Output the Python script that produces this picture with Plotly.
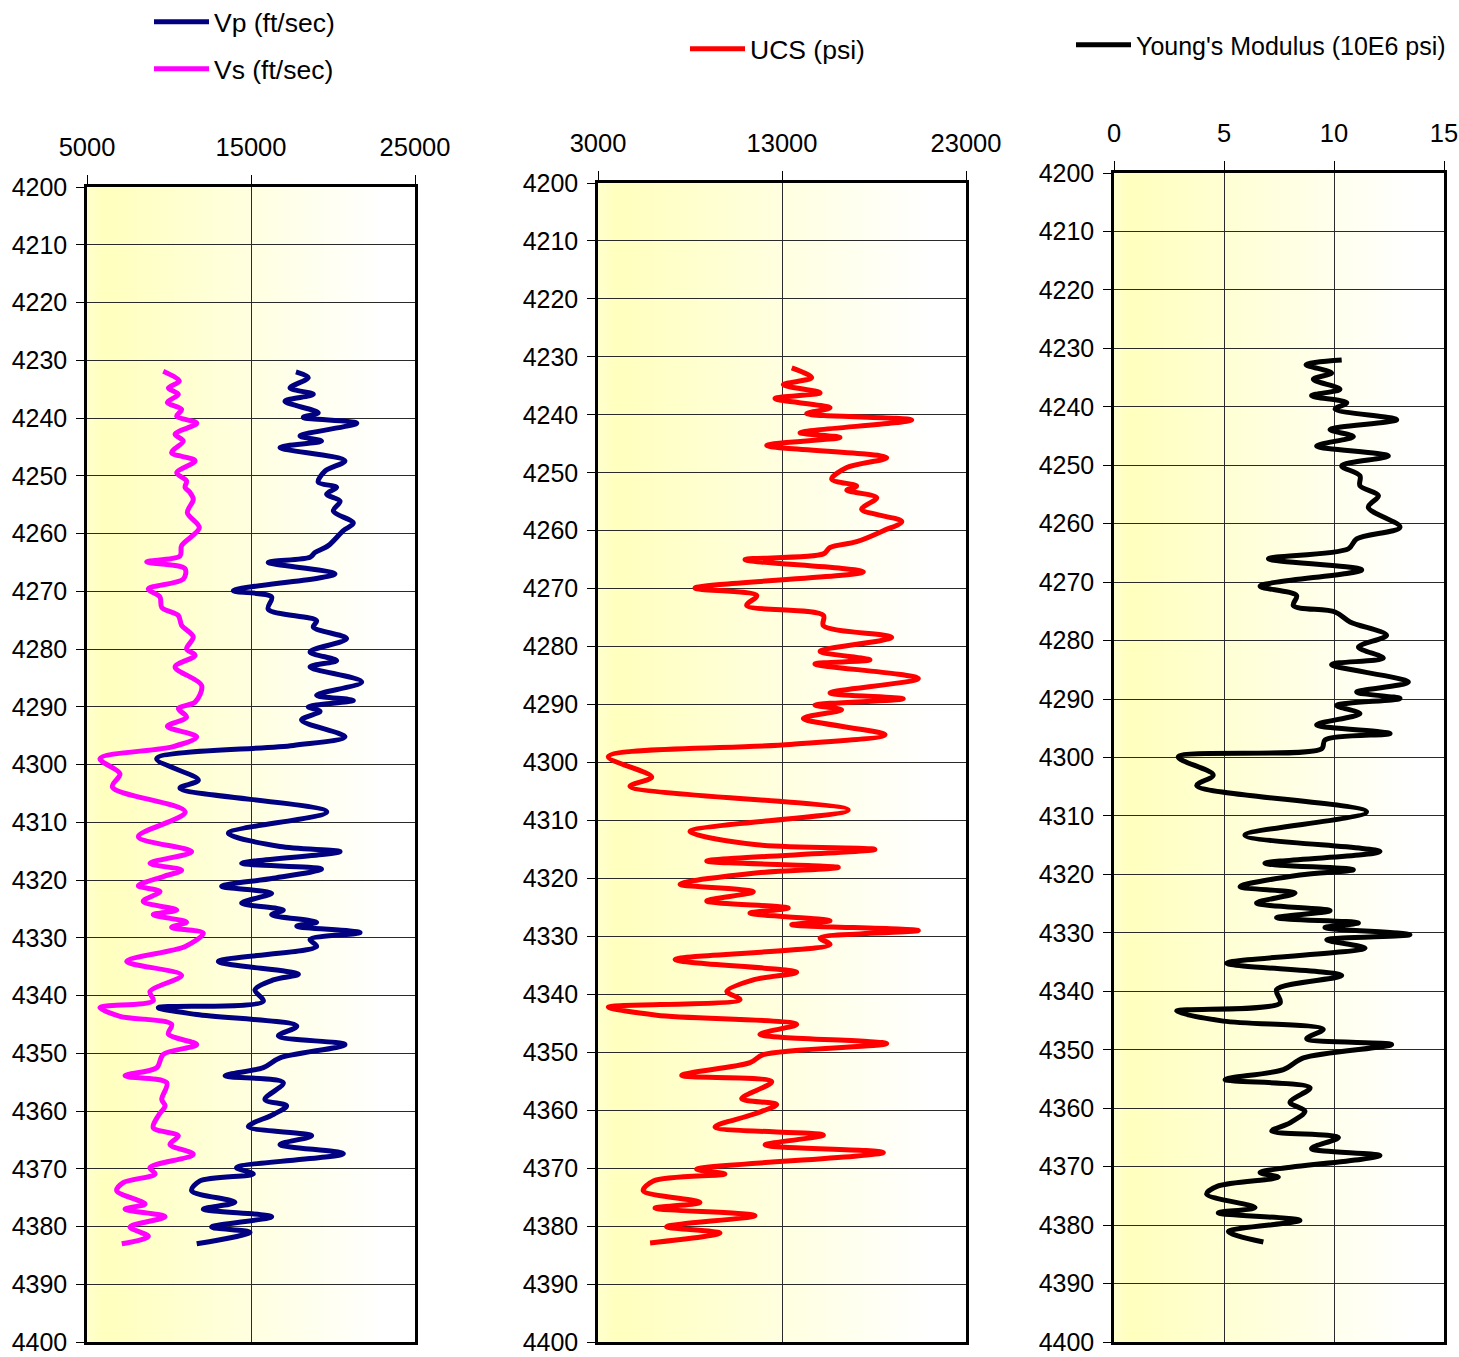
import base64
import struct
import zlib
import plotly.graph_objects as go

# ---------------- data ----------------
vp_depth = [4232.0, 4233.0, 4234.8, 4235.9, 4237.1, 4239.1, 4239.9, 4240.9, 4243.1, 4244.0,
            4245.1, 4247.4, 4249.2, 4251.1, 4252.0, 4253.2, 4254.4, 4256.1, 4258.2, 4259.5,
            4262.1, 4263.3, 4264.1, 4265.0, 4267.0, 4269.9, 4271.0, 4273.1, 4275.1, 4276.2,
            4278.2, 4280.5, 4282.0, 4283.1, 4285.7, 4288.0, 4288.9, 4290.0, 4290.8, 4292.3,
            4295.2, 4296.7, 4299.0, 4302.7, 4304.1, 4308.2, 4311.9, 4314.2, 4315.1, 4317.1,
            4318.1, 4319.7, 4321.1, 4322.3, 4324.0, 4325.2, 4326.0, 4327.3, 4328.0, 4329.1,
            4330.3, 4331.5, 4334.1, 4336.3, 4337.3, 4339.0, 4341.0, 4342.1, 4343.3, 4345.3,
            4347.0, 4348.5, 4350.8, 4352.5, 4353.9, 4355.1, 4358.0, 4359.1, 4360.6, 4362.7,
            4364.3, 4365.8, 4367.4, 4369.8, 4370.9, 4372.1, 4373.8, 4375.8, 4377.0, 4378.3,
            4380.1, 4381.0, 4383.0]
vp = [17740, 18490, 17380, 18800, 17070, 19100, 18190, 21450, 17990, 19300,
      16770, 20730, 19510, 19100, 20220, 19610, 20430, 20020, 21240, 20630,
      19710, 18900, 18600, 16050, 20120, 13920, 16260, 16050, 19000, 18800,
      20830, 18600, 20220, 18600, 21750, 19000, 21240, 18490, 19210, 18080,
      20730, 17580, 9250, 11790, 10670, 19620, 13620, 16770, 20430, 14430,
      19300, 16360, 13210, 16260, 14430, 16970, 16260, 19000, 17790, 21650,
      18600, 19000, 13010, 17890, 16360, 15240, 15750, 9350, 11690, 17790,
      16670, 20730, 16770, 15750, 13420, 16970, 15850, 17170, 16360, 14840,
      18700, 16770, 20630, 14120, 15140, 11890, 11380, 14020, 12090, 16260,
      12600, 14940, 11690]

vs_depth = [4231.9, 4233.6, 4234.8, 4235.9, 4237.3, 4238.5, 4239.7, 4240.9, 4242.8, 4244.0,
            4246.0, 4247.4, 4249.5, 4250.9, 4252.0, 4252.9, 4254.1, 4256.4, 4259.0, 4262.1,
            4263.9, 4264.9, 4266.1, 4267.9, 4269.6, 4271.0, 4272.8, 4274.2, 4275.9, 4277.9,
            4280.0, 4281.1, 4283.1, 4286.3, 4289.2, 4290.3, 4291.8, 4293.4, 4295.2, 4296.9,
            4299.0, 4301.6, 4303.9, 4308.2, 4312.5, 4315.1, 4317.1, 4318.3, 4319.4, 4321.0,
            4322.0, 4323.7, 4325.2, 4326.0, 4327.3, 4328.2, 4329.2, 4331.5, 4334.1, 4336.5,
            4339.3, 4340.9, 4342.1, 4343.6, 4345.0, 4346.7, 4348.5, 4350.2, 4352.5, 4353.9,
            4355.1, 4358.0, 4359.1, 4360.8, 4362.9, 4364.3, 4365.8, 4367.5, 4369.8, 4370.9,
            4372.4, 4373.8, 4376.1, 4377.0, 4378.3, 4380.1, 4381.7, 4383.0]
vs = [9650, 10630, 9960, 10570, 9900, 10770, 10470, 11690, 10370, 10870,
      10160, 11590, 10470, 11070, 10980, 11280, 11480, 11120, 11850, 10770,
      10670, 8640, 10980, 10870, 8740, 9450, 9560, 10570, 10770, 11480,
      11070, 11590, 10370, 11990, 11590, 10570, 11070, 9900, 11690, 10260,
      5790, 7010, 6550, 10990, 8130, 11380, 8840, 10770, 9650, 8130,
      9450, 8430, 10470, 9040, 11070, 10160, 12090, 10990, 7420, 10770,
      8840, 9040, 5790, 7010, 10160, 9960, 11690, 9650, 9250, 7320,
      9860, 9560, 9760, 9350, 9040, 10570, 10060, 11480, 8840, 9150,
      7210, 6810, 8540, 7320, 9760, 7620, 8740, 7120]

ucs_depth = [4231.9, 4233.6, 4234.8, 4236.2, 4237.2, 4238.8, 4239.8, 4240.9, 4243.1, 4243.9,
             4245.3, 4247.4, 4249.1, 4251.1, 4252.3, 4253.0, 4254.3, 4256.3, 4258.4, 4260.0,
             4261.9, 4262.9, 4264.0, 4265.0, 4267.1, 4269.9, 4271.2, 4272.9, 4274.6, 4276.4,
             4278.4, 4280.8, 4282.3, 4283.0, 4285.5, 4288.0, 4289.0, 4290.1, 4290.9, 4292.4,
             4295.2, 4296.9, 4299.0, 4302.5, 4304.1, 4308.2, 4311.9, 4314.2, 4315.0, 4317.0,
             4318.1, 4319.1, 4321.0, 4322.3, 4323.9, 4325.1, 4326.0, 4327.3, 4328.0, 4329.0,
             4330.3, 4331.4, 4334.0, 4336.2, 4337.5, 4339.5, 4340.9, 4342.2, 4343.6, 4345.2,
             4346.9, 4348.5, 4350.4, 4351.8, 4354.0, 4355.1, 4358.0, 4359.0, 4360.7, 4362.9,
             4364.3, 4366.0, 4367.3, 4370.2, 4371.0, 4372.2, 4373.9, 4375.9, 4376.9, 4378.2,
             4380.1, 4381.2, 4382.9]
ucs = [13530, 14610, 13070, 15070, 12620, 15610, 14340, 20050, 13980, 16150,
       12170, 18690, 16520, 15700, 17060, 16520, 18150, 17330, 19510, 18510,
       17060, 15610, 15250, 10990, 17420, 8270, 11630, 11080, 15250, 15250,
       18960, 15070, 17780, 14790, 20410, 15610, 19590, 14790, 16240, 14160,
       18600, 13440, 3560, 5920, 4740, 16600, 8000, 11630, 18050, 8910,
       16060, 11440, 7460, 11440, 8910, 13340, 11260, 15610, 13530, 20410,
       15070, 15610, 7190, 13800, 11440, 10000, 10720, 3560, 6190, 13800,
       11800, 18690, 11980, 11260, 7550, 12440, 10810, 12710, 11440, 9360,
       15250, 12080, 18510, 8360, 9900, 6010, 5460, 8540, 6100, 11530,
       6730, 9630, 5830]

ym_depth = [4232.0, 4232.8, 4234.2, 4235.3, 4237.0, 4238.1, 4239.3, 4240.4, 4242.2, 4243.9,
            4245.1, 4246.7, 4248.4, 4250.1, 4251.8, 4253.5, 4255.2, 4257.2, 4260.6, 4262.6,
            4264.3, 4266.0, 4267.9, 4270.7, 4272.3, 4274.0, 4275.1, 4276.8, 4279.1, 4281.1,
            4283.0, 4284.1, 4287.1, 4288.8, 4289.9, 4291.1, 4292.5, 4294.4, 4295.9, 4297.0,
            4298.5, 4299.9, 4303.0, 4304.8, 4309.3, 4313.3, 4316.1, 4318.1, 4319.2, 4320.1,
            4322.1, 4323.2, 4324.9, 4326.2, 4327.4, 4328.3, 4329.1, 4330.3, 4331.2, 4332.6,
            4335.2, 4337.3, 4339.7, 4342.0, 4343.4, 4345.1, 4346.5, 4348.1, 4349.1, 4351.4,
            4353.4, 4355.1, 4356.5, 4359.0, 4360.5, 4362.5, 4363.9, 4365.0, 4366.9, 4368.1,
            4371.0, 4371.8, 4373.3, 4374.7, 4377.0, 4377.9, 4379.2, 4381.1, 4382.9]
ym = [10.35, 8.73, 9.89, 9.06, 10.27, 8.98, 10.58, 10.05, 12.85, 9.82,
      10.88, 9.21, 12.47, 10.35, 11.18, 11.18, 12.02, 11.56, 13.0, 11.03,
      10.65, 7.02, 11.26, 6.64, 8.30, 8.15, 10.05, 10.73, 12.39, 11.11,
      12.24, 9.89, 13.38, 11.03, 13.0, 10.12, 11.18, 9.21, 12.55, 9.59,
      9.44, 2.92, 4.51, 3.76, 11.48, 5.95, 12.09, 6.86, 10.88, 8.45,
      5.73, 8.23, 6.48, 9.82, 7.39, 11.11, 9.59, 13.45, 9.67, 11.41,
      5.12, 10.35, 7.39, 7.55, 2.85, 4.97, 9.51, 8.76, 12.62, 8.61,
      7.70, 5.05, 8.91, 8.0, 8.68, 8.0, 7.17, 10.20, 8.98, 12.09,
      6.64, 7.47, 4.74, 4.21, 6.41, 4.74, 8.45, 5.20, 6.79]

depth_range = [4400, 4200]
depth_ticks = list(range(4200, 4401, 10))
vel_range = [5000, 25000]
vel_ticks = [5000, 15000, 25000]
ucs_range = [3000, 23000]
ucs_ticks = [3000, 13000, 23000]
ym_range = [0, 15]
ym_ticks = [0, 5, 10, 15]

# ---------------- helpers ----------------
W, H = 1459, 1357
FONT = "Liberation Sans, Arial, sans-serif"
BOTTOM = 1342


def gradient_png():
    n = 240
    row = bytearray([0])
    for i in range(n):
        t = i / (n - 1)
        if t < 0.05:
            b = 205 - (205 - 190) * (t / 0.05)
        elif t < 0.9:
            b = 190 + (255 - 190) * ((t - 0.05) / 0.85)
        else:
            b = 255
        row += bytes([255, 255, int(round(b))])

    def chunk(typ, data):
        return (struct.pack(">I", len(data)) + typ + data +
                struct.pack(">I", zlib.crc32(typ + data) & 0xFFFFFFFF))

    png = (b"\x89PNG\r\n\x1a\n" +
           chunk(b"IHDR", struct.pack(">IIBBBBB", n, 1, 8, 2, 0, 0, 0)) +
           chunk(b"IDAT", zlib.compress(bytes(row))) +
           chunk(b"IEND", b""))
    return "data:image/png;base64," + base64.b64encode(png).decode()


grad = gradient_png()

fig = go.Figure()

line_kw = dict(shape="spline", smoothing=0.9, width=5)
fig.add_trace(go.Scatter(x=vp, y=vp_depth, mode="lines", name="Vp (ft/sec)",
                         line=dict(color="#000080", **line_kw),
                         xaxis="x", yaxis="y", legend="legend"))
fig.add_trace(go.Scatter(x=vs, y=vs_depth, mode="lines", name="Vs (ft/sec)",
                         line=dict(color="#FF00FF", **line_kw),
                         xaxis="x", yaxis="y", legend="legend2"))
fig.add_trace(go.Scatter(x=ucs, y=ucs_depth, mode="lines", name="UCS (psi)",
                         line=dict(color="#FF0000", **line_kw),
                         xaxis="x2", yaxis="y2", legend="legend3"))
fig.add_trace(go.Scatter(x=ym, y=ym_depth, mode="lines", name="Young's Modulus (10E6 psi)",
                         line=dict(color="#000000", **line_kw),
                         xaxis="x3", yaxis="y3", legend="legend4"))


def xax(rng, ticks, x0, x1, anchor):
    return dict(range=rng, tickmode="array", tickvals=ticks, ticktext=[str(t) for t in ticks],
                side="top", domain=[x0 / W, x1 / W], anchor=anchor, automargin=False,
                showline=True, mirror=True, linecolor="black", linewidth=2.5,
                ticks="outside", ticklen=9, tickcolor="black", tickwidth=1,
                showgrid=True, gridcolor="#2a2a2a", gridwidth=1, zeroline=False,
                tickfont=dict(family=FONT, size=25.5, color="black"),
                ticklabelstandoff=9, ticklabeloverflow="allow", fixedrange=True)


def yax(y0, y1, anchor):
    return dict(range=depth_range, tickmode="array", tickvals=depth_ticks,
                ticktext=[str(t) for t in depth_ticks],
                domain=[1 - y1 / H, 1 - y0 / H], anchor=anchor, automargin=False,
                showline=True, mirror=True, linecolor="black", linewidth=2.5,
                ticks="outside", ticklen=8, tickcolor="black", tickwidth=1,
                showgrid=True, gridcolor="#2a2a2a", gridwidth=1, zeroline=False,
                tickfont=dict(family=FONT, size=25, color="black"),
                ticklabelstandoff=4, ticklabeloverflow="allow", fixedrange=True)


images = []
for xr, yr in (("x", "y"), ("x2", "y2"), ("x3", "y3")):
    images.append(dict(source=grad, xref=xr + " domain", yref=yr + " domain",
                       x=0, y=1, sizex=1, sizey=1, xanchor="left", yanchor="top",
                       sizing="stretch", layer="below"))


def leg(xpx, ypx, size=26.5):
    return dict(x=xpx / W, y=1 - ypx / H, xanchor="left", yanchor="middle",
                bgcolor="rgba(0,0,0,0)", borderwidth=0, itemwidth=55,
                font=dict(family=FONT, size=size, color="black"))


fig.update_layout(
    width=W, height=H,
    margin=dict(l=0, r=0, t=0, b=0, autoexpand=False),
    paper_bgcolor="white", plot_bgcolor="white",
    xaxis=xax(vel_range, vel_ticks, 87, 415, "y"),
    yaxis=yax(187, BOTTOM, "x"),
    xaxis2=xax(ucs_range, ucs_ticks, 598, 966, "y2"),
    yaxis2=yax(183, BOTTOM, "x2"),
    xaxis3=xax(ym_range, ym_ticks, 1114, 1444, "y3"),
    yaxis3=yax(173, BOTTOM, "x3"),
    images=images,
    showlegend=True,
    legend=leg(149, 22), legend2=leg(149, 69),
    legend3=leg(685, 49), legend4=leg(1071, 45, 25),
)

fig.write_html(
    "out.html",
    config={"displayModeBar": False},
    post_script="document.body.style.margin='0px';document.body.style.overflow='hidden';",
)
